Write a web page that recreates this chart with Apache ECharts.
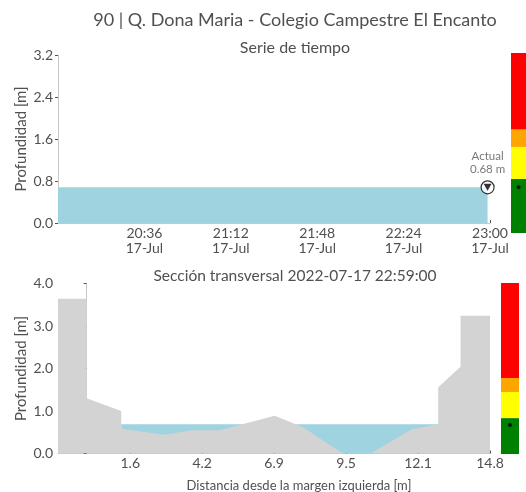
<!DOCTYPE html>
<html><head><meta charset="utf-8">
<script src="https://cdn.jsdelivr.net/npm/echarts@6/dist/echarts.min.js"></script>
<style>html,body{margin:0;padding:0;background:#fff}#c{width:526px;height:492px}</style>
</head><body><div id="c"></div>
<script>
// ---------- DATA ----------
const stationTitle = '90 | Q. Dona Maria - Colegio Campestre El Encanto';
const seriesTitle = 'Serie de tiempo';
const sectionTitle = 'Sección transversal 2022-07-17 22:59:00';
const xSectionName = 'Distancia desde la margen izquierda [m]';
const yName = 'Profundidad [m]';

const timeStart = '20:00';
const timeEnd = '23:00';
const times = ['20:00','20:10','20:20','20:30','20:40','20:50','21:00','21:10','21:20','21:30','21:40','21:50','22:00','22:10','22:20','22:30','22:40','22:50','22:59'];
const depths = [0.68,0.68,0.68,0.68,0.68,0.68,0.68,0.68,0.68,0.68,0.68,0.68,0.68,0.68,0.68,0.68,0.68,0.68,0.68];
const timeTickLabels = ['20:36','21:12','21:48','22:24','23:00'];
const dateLabel = '17-Jul';
const currentTime = '22:59';
const currentDepth = 0.68;
const currentLabel = 'Actual\n0.68 m';

const groundX = [-1.05, 0.0, 0.0, 1.27, 1.27, 2.86, 3.84, 4.88, 6.9, 7.94, 9.4, 10.42, 11.92, 12.9, 12.9, 13.72, 13.72, 14.8];
const groundY = [3.64, 3.64, 1.30, 1.00, 0.58, 0.44, 0.55, 0.55, 0.89, 0.62, 0.0, 0.0, 0.57, 0.69, 1.56, 2.04, 3.24, 3.24];
const waterX = [1.27, 12.9];
const waterY = [0.69, 0.69];
const sectionMin = -1.05;
const sectionMax = 14.8;
const sectionTicks = [1.6, 4.24, 6.88, 9.52, 12.16, 14.8];
const sectionTickLabels = ['1.6','4.2','6.9','9.5','12.1','14.8'];

const thresholds = [0.84, 1.45, 1.78];
const levelColors = ['#008000', '#ffff00', '#ffa500', '#ff0000'];

// ---------- HELPERS ----------
const toMin = s => { const [h, m] = s.split(':').map(Number); return h * 60 + m; };
const t0 = toMin(timeStart);
const tsData = times.map((t, i) => [toMin(t) - t0, depths[i]]);
const timeTicks = timeTickLabels.map(t => toMin(t) - t0);
const groundData = groundX.map((x, i) => [x, groundY[i]]);
const waterData = waterX.map((x, i) => [x, waterY[i]]);

const FONT = 'Lato';
const TXT = '#505050';
const WATER = '#9fd3e0';
const GROUND = '#d3d3d3';

function bands(lo, hi) {
  const edges = [lo].concat(thresholds, [hi]);
  return levelColors.map((c, i) => [{ yAxis: edges[i], itemStyle: { color: c } }, { yAxis: edges[i + 1] }]);
}

const topBarRange = [-0.19, 3.24];
const botBarRange = [0, 4];

const chart = echarts.init(document.getElementById('c'), null, { renderer: 'canvas' });

const axisLineStyle = { show: true, lineStyle: { color: '#c8c8c8', width: 1 } };

chart.setOption({
  animation: false,
  textStyle: { fontFamily: FONT },
  title: [
    { text: stationTitle, left: 290, top: 6, textAlign: 'center', textStyle: { fontFamily: FONT, fontSize: 18, fontWeight: 'normal', color: TXT } },
    { text: seriesTitle, left: 290, top: 35, textAlign: 'center', textStyle: { fontFamily: FONT, fontSize: 16, fontWeight: 'normal', color: TXT } },
    { text: sectionTitle, left: 290, top: 263, textAlign: 'center', textStyle: { fontFamily: FONT, fontSize: 15.5, fontWeight: 'normal', color: TXT } },
    { text: xSectionName, left: 294, top: 474, textAlign: 'center', textStyle: { fontFamily: FONT, fontSize: 13, fontWeight: 'normal', color: TXT } }
  ],
  grid: [
    { left: 58, top: 55, width: 432, height: 168 },
    { left: 511, top: 53, width: 18, height: 180 },
    { left: 58, top: 283.5, width: 432, height: 170 },
    { left: 501, top: 283, width: 18, height: 171 }
  ],
  xAxis: [
    { gridIndex: 0, type: 'value', min: 0, max: toMin(timeEnd) - t0,
      axisLine: axisLineStyle, splitLine: { show: false },
      axisTick: { show: true, inside: true, length: 3, lineStyle: { color: '#555' }, customValues: timeTicks },
      axisLabel: { customValues: timeTicks, color: TXT, fontSize: 14, fontFamily: FONT, margin: 3, lineHeight: 15,
        formatter: v => { const i = timeTicks.indexOf(v); return i >= 0 ? timeTickLabels[i] + '\n' + dateLabel : ''; } } },
    { gridIndex: 1, type: 'value', min: 0, max: 1, show: false },
    { gridIndex: 2, type: 'value', min: sectionMin, max: sectionMax,
      axisLine: axisLineStyle, splitLine: { show: false },
      axisTick: { show: true, inside: true, length: 3, lineStyle: { color: '#555' }, customValues: sectionTicks },
      axisLabel: { customValues: sectionTicks, color: TXT, fontSize: 14, fontFamily: FONT, margin: 3,
        formatter: v => { const i = sectionTicks.indexOf(v); return i >= 0 ? sectionTickLabels[i] : ''; } } },
    { gridIndex: 3, type: 'value', min: 0, max: 1, show: false }
  ],
  yAxis: [
    { gridIndex: 0, type: 'value', min: 0, max: 3.2, interval: 0.8,
      name: yName, nameLocation: 'middle', nameGap: 29, nameMoveOverlap: false, nameTextStyle: { color: TXT, fontSize: 15, fontFamily: FONT },
      axisLine: axisLineStyle, splitLine: { show: false },
      axisTick: { show: true, length: 3, lineStyle: { color: '#555' } },
      axisLabel: { color: TXT, fontSize: 14, fontFamily: FONT, margin: 5, formatter: v => v.toFixed(1) } },
    { gridIndex: 1, type: 'value', min: topBarRange[0], max: topBarRange[1], show: false },
    { gridIndex: 2, type: 'value', min: 0, max: 4, interval: 1,
      name: yName, nameLocation: 'middle', nameGap: 29, nameMoveOverlap: false, nameTextStyle: { color: TXT, fontSize: 15, fontFamily: FONT },
      axisLine: axisLineStyle, splitLine: { show: false },
      axisTick: { show: true, length: 3, lineStyle: { color: '#555' } },
      axisLabel: { color: TXT, fontSize: 14, fontFamily: FONT, margin: 5, formatter: v => v.toFixed(1) } },
    { gridIndex: 3, type: 'value', min: botBarRange[0], max: botBarRange[1], show: false }
  ],
  series: [
    { type: 'line', xAxisIndex: 0, yAxisIndex: 0, data: tsData, symbol: 'none',
      lineStyle: { width: 0, color: WATER }, areaStyle: { color: WATER, opacity: 1 }, z: 2 },
    { type: 'scatter', xAxisIndex: 0, yAxisIndex: 0, data: [[toMin(currentTime) - t0, currentDepth]],
      symbol: 'circle', symbolSize: 13, itemStyle: { color: '#fff', borderColor: '#000', borderWidth: 1.2 }, z: 5,
      label: { show: true, position: 'top', distance: 4, formatter: currentLabel, color: '#555', fontSize: 11.5, fontFamily: FONT, lineHeight: 13 } },
    { type: 'scatter', xAxisIndex: 0, yAxisIndex: 0, data: [[toMin(currentTime) - t0, currentDepth]],
      symbol: 'triangle', symbolRotate: 180, symbolSize: [8, 7], itemStyle: { color: '#000' }, z: 6 },
    { type: 'line', xAxisIndex: 1, yAxisIndex: 1, data: [[0.5, currentDepth]], symbol: 'none', lineStyle: { width: 0 }, z: 1,
      markArea: { silent: true, itemStyle: { opacity: 1 }, data: bands(topBarRange[0], topBarRange[1]) } },
    { type: 'scatter', xAxisIndex: 1, yAxisIndex: 1, data: [[0.5, currentDepth]], symbolSize: 4, itemStyle: { color: '#000' }, z: 5 },
    { type: 'line', xAxisIndex: 2, yAxisIndex: 2, data: waterData, symbol: 'none',
      lineStyle: { width: 0, color: WATER }, areaStyle: { color: WATER, opacity: 1 }, z: 2 },
    { type: 'line', xAxisIndex: 2, yAxisIndex: 2, data: groundData, symbol: 'none',
      lineStyle: { width: 0, color: GROUND }, areaStyle: { color: GROUND, opacity: 1 }, z: 3 },
    { type: 'line', xAxisIndex: 3, yAxisIndex: 3, data: [[0.5, currentDepth]], symbol: 'none', lineStyle: { width: 0 }, z: 1,
      markArea: { silent: true, itemStyle: { opacity: 1 }, data: bands(botBarRange[0], botBarRange[1]) } },
    { type: 'scatter', xAxisIndex: 3, yAxisIndex: 3, data: [[0.5, currentDepth]], symbolSize: 4, itemStyle: { color: '#000' }, z: 5 }
  ]
});
</script>
</body></html>
